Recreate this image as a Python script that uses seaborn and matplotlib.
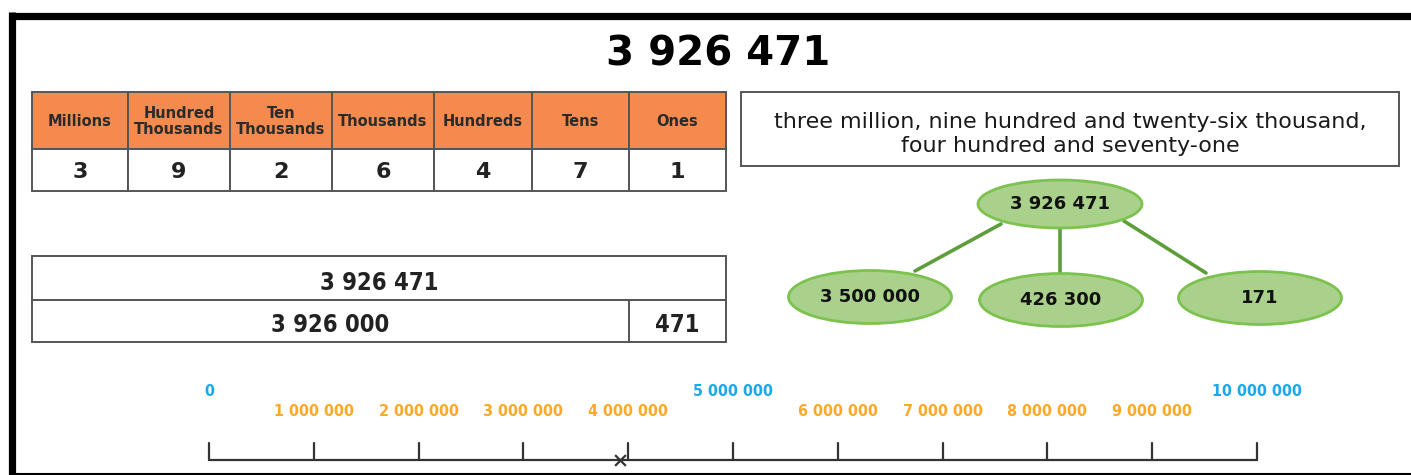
import matplotlib
matplotlib.use("Agg")
import matplotlib.pyplot as plt
from matplotlib.patches import Rectangle, Ellipse
import pandas as pd
import seaborn as sns

# --- data -------------------------------------------------------------
number = 3926471
place_names = ["Millions", "Hundred\nThousands", "Ten\nThousands", "Thousands",
               "Hundreds", "Tens", "Ones"]
place_digits = [3, 9, 2, 6, 4, 7, 1]
number_words = ("three million, nine hundred and twenty-six thousand,\n"
                "four hundred and seventy-one")
bar_parts = [3926000, 471]
tree_parts = [3500000, 426300, 171]
line_ticks = [0, 1000000, 2000000, 3000000, 4000000, 5000000,
              6000000, 7000000, 8000000, 9000000, 10000000]
line_major = [0, 5000000, 10000000]

ORANGE = "#F58A4F"
GRID = "#555555"
GREEN_FILL = "#AAD18C"
GREEN_EDGE = "#7CC24E"
GREEN_LINE = "#5E9E3A"
BLUE = "#1AA9EA"
GOLD = "#FBA927"


def fmt(n):
    return f"{n:,}".replace(",", " ")


sns.set_style("white")
plt.rcParams["font.family"] = ["DejaVu Sans"]

W, H = 1411, 475
fig = plt.figure(figsize=(W / 100, H / 100), dpi=100)
ax = fig.add_axes([0, 0, 1, 1])
ax.set_xlim(0, W)
ax.set_ylim(H, 0)
ax.axis("off")

# page frame
ax.plot([11.5, W], [15.5, 15.5], color="black", lw=5.2, solid_capstyle="butt")
ax.plot([11.5, 11.5], [12, H], color="black", lw=5.2, solid_capstyle="butt")
ax.plot([11.5, W], [474, 474], color="black", lw=1.5)

# title
ax.text(718, 55, fmt(number), ha="center", va="center", fontsize=29,
        fontweight="bold", color="black")

# place value table
col_edges = [32, 128, 230, 332, 434, 532, 629, 726]
head_top, head_bot, row_bot = 92, 149, 191
for i, (name, d) in enumerate(zip(place_names, place_digits)):
    x0, x1 = col_edges[i], col_edges[i + 1]
    ax.add_patch(Rectangle((x0, head_top), x1 - x0, head_bot - head_top,
                           facecolor=ORANGE, edgecolor=GRID, lw=1.4))
    ax.add_patch(Rectangle((x0, head_bot), x1 - x0, row_bot - head_bot,
                           facecolor="white", edgecolor=GRID, lw=1.4))
    ax.text((x0 + x1) / 2, (head_top + head_bot) / 2 + 1, name, ha="center",
            va="center", fontsize=10.5, fontweight="bold", color="#2b2b2b",
            linespacing=1.0)
    ax.text((x0 + x1) / 2, (head_bot + row_bot) / 2 + 2, str(d), ha="center",
            va="center", fontsize=16, fontweight="bold", color="#222222")

# number in words
ax.add_patch(Rectangle((741, 92), 1399 - 741, 166 - 92, facecolor="white",
                       edgecolor=GRID, lw=1.4))
ax.text(1070, 134, number_words, ha="center", va="center", fontsize=16,
        color="#1a1a1a", linespacing=1.3)

# bar model
ax.add_patch(Rectangle((32, 256), 726 - 32, 44, facecolor="white",
                       edgecolor=GRID, lw=1.4))
ax.text(379, 283, fmt(number), ha="center", va="center", fontsize=17,
        fontweight="bold", fontstretch="condensed", color="#222222")
split = 629
ax.add_patch(Rectangle((32, 300), split - 32, 42, facecolor="white",
                       edgecolor=GRID, lw=1.4))
ax.add_patch(Rectangle((split, 300), 726 - split, 42, facecolor="white",
                       edgecolor=GRID, lw=1.4))
ax.text((32 + split) / 2, 325, fmt(bar_parts[0]), ha="center", va="center",
        fontsize=17, fontweight="bold", fontstretch="condensed",
        color="#222222")
ax.text((split + 726) / 2, 325, fmt(bar_parts[1]), ha="center", va="center",
        fontsize=17, fontweight="bold", fontstretch="condensed",
        color="#222222")

# part-whole tree
top_c = (1060, 204)
child_c = [(870, 297), (1061, 300), (1260, 298)]
link_from = [(1001, 224), (1060, 228), (1124, 221)]
link_to = [(915, 271), (1060, 274), (1206, 273)]
for (xa, ya), (xb, yb) in zip(link_from, link_to):
    ax.plot([xa, xb], [ya, yb], color=GREEN_LINE, lw=2.6, zorder=1)
ax.add_patch(Ellipse(top_c, 164, 48, facecolor=GREEN_FILL,
                     edgecolor=GREEN_EDGE, lw=2, zorder=2))
ax.text(top_c[0], top_c[1], fmt(number), ha="center", va="center",
        fontsize=13, fontweight="bold", color="#111111", zorder=3)
for c, val in zip(child_c, tree_parts):
    ax.add_patch(Ellipse(c, 163, 53, facecolor=GREEN_FILL,
                         edgecolor=GREEN_EDGE, lw=2, zorder=2))
    ax.text(c[0], c[1], fmt(val), ha="center", va="center",
            fontsize=13, fontweight="bold", color="#111111", zorder=3)

# number line: its own axes, x in real values
x_left, x_right = 209, 1257
y_top, y_bot = 378, 472
nl = fig.add_axes([x_left / W, (H - y_bot) / H, (x_right - x_left) / W,
                   (y_bot - y_top) / H])
nl.set_xlim(line_ticks[0], line_ticks[-1])
nl.set_ylim(y_bot, y_top)
nl.axis("off")
nl.patch.set_alpha(0)
line_df = pd.DataFrame({"value": [line_ticks[0], line_ticks[-1]],
                        "y": [460, 460]})
sns.lineplot(data=line_df, x="value", y="y", ax=nl, color="#333333", lw=1.6,
             clip_on=False)
for t in line_ticks:
    nl.plot([t, t], [443, 460], color="#333333", lw=1.6, clip_on=False)
    major = t in line_major
    nl.text(t, 392 if major else 412, fmt(t), ha="center", va="center",
            fontsize=11.5, fontweight="bold", fontstretch="condensed",
            color=BLUE if major else GOLD, clip_on=False)
sns.scatterplot(x=[number], y=[460], marker="x", s=60, color="#333333",
                linewidth=1.6, ax=nl, clip_on=False)

fig.savefig("out.png", dpi=100, facecolor="white")
